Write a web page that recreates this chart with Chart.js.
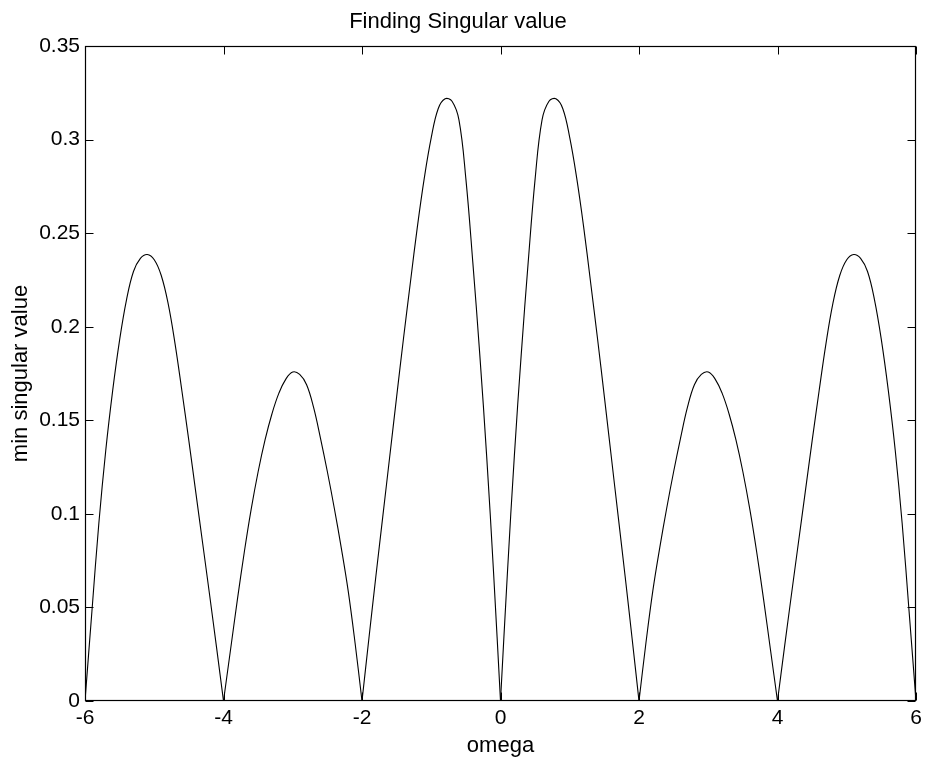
<!DOCTYPE html>
<html>
<head>
<meta charset="utf-8">
<title>Finding Singular value</title>
<script src="https://cdn.jsdelivr.net/npm/chart.js@4.4.1/dist/chart.umd.min.js"></script>
<style>
  html, body { margin: 0; padding: 0; background: #fff; }
  #wrap { width: 927px; height: 763px; }
</style>
</head>
<body>
<div id="wrap"><canvas id="chart" width="927" height="763"></canvas></div>
<script>
// valores (omega x menor valor singular)
const omega = [
  -6.0, -5.9, -5.8, -5.7, -5.6, -5.5, -5.4, -5.3, -5.2, -5.1,
  -5.0, -4.9, -4.8, -4.7, -4.6, -4.5, -4.4, -4.3, -4.2, -4.1,
  -4.0, -3.9, -3.8, -3.7, -3.6, -3.5, -3.4, -3.3, -3.2, -3.1,
  -3.0, -2.9, -2.8, -2.7, -2.6, -2.5, -2.4, -2.3, -2.2, -2.1,
  -2.0, -1.9, -1.8, -1.7, -1.6, -1.5, -1.4, -1.3, -1.2, -1.1,
  -1.0, -0.9, -0.8, -0.7, -0.6, -0.5, -0.4, -0.3, -0.2, -0.1,
  0.0, 0.1, 0.2, 0.3, 0.4, 0.5, 0.6, 0.7, 0.8, 0.9,
  1.0, 1.1, 1.2, 1.3, 1.4, 1.5, 1.6, 1.7, 1.8, 1.9,
  2.0, 2.1, 2.2, 2.3, 2.4, 2.5, 2.6, 2.7, 2.8, 2.9,
  3.0, 3.1, 3.2, 3.3, 3.4, 3.5, 3.6, 3.7, 3.8, 3.9,
  4.0, 4.1, 4.2, 4.3, 4.4, 4.5, 4.6, 4.7, 4.8, 4.9,
  5.0, 5.1, 5.2, 5.3, 5.4, 5.5, 5.6, 5.7, 5.8, 5.9,
  6.0,
];
const minSingular = [
  0, 0.048, 0.095, 0.134, 0.166, 0.193, 0.2145, 0.2295, 0.2365, 0.2386,
  0.2358, 0.2275, 0.2125, 0.191, 0.1655, 0.139, 0.1115, 0.084, 0.0565, 0.0285,
  0, 0.027, 0.054, 0.0795, 0.1025, 0.1225, 0.1395, 0.1535, 0.1645, 0.172,
  0.1758, 0.1745, 0.169, 0.157, 0.1405, 0.1225, 0.103, 0.082, 0.059, 0.031,
  0, 0.0335, 0.0665, 0.0985, 0.1305, 0.1625, 0.194, 0.224, 0.2535, 0.2795,
  0.301, 0.3165, 0.3218, 0.3205, 0.3105, 0.279, 0.2345, 0.1855, 0.131, 0.0685,
  0, 0.0685, 0.131, 0.1855, 0.2345, 0.279, 0.3105, 0.3205, 0.3218, 0.3165,
  0.301, 0.2795, 0.2535, 0.224, 0.194, 0.1625, 0.1305, 0.0985, 0.0665, 0.0335,
  0, 0.031, 0.059, 0.082, 0.103, 0.1225, 0.1405, 0.157, 0.169, 0.1745,
  0.1758, 0.172, 0.1645, 0.1535, 0.1395, 0.1225, 0.1025, 0.0795, 0.054, 0.027,
  0, 0.0285, 0.0565, 0.084, 0.1115, 0.139, 0.1655, 0.191, 0.2125, 0.2275,
  0.2358, 0.2386, 0.2365, 0.2295, 0.2145, 0.193, 0.166, 0.134, 0.095, 0.048,
  0,
];

const xTicks = [-6, -4, -2, 0, 2, 4, 6];
const xTickLabels = ['-6', '-4', '-2', '0', '2', '4', '6'];
const yTicks = [0, 0.05, 0.1, 0.15, 0.2, 0.25, 0.3, 0.35];
const yTickLabels = ['0', '0.05', '0.1', '0.15', '0.2', '0.25', '0.3', '0.35'];

const FONT = "'Liberation Sans', Arial, Helvetica, sans-serif";

// cada arco entre zeros vira um dataset, para os bicos em zero ficarem agudos
function buildLobes() {
  const lobes = [];
  let cur = [];
  omega.forEach((x, i) => {
    const y = minSingular[i];
    cur.push({ x, y });
    if (y === 0 && cur.length > 1) {
      lobes.push(cur);
      cur = [{ x, y }];
    }
  });
  if (cur.length > 1) lobes.push(cur);
  return lobes;
}

// moldura estilo MATLAB com marcas de escala para dentro, nos quatro lados
const frameTicks = {
  id: 'frameTicks',
  afterDraw(chart) {
    const { ctx, chartArea: a, scales: { x, y } } = chart;
    const L = Math.round(a.left) + 0.5;
    const R = Math.round(a.right) - 0.5;
    const T = Math.round(a.top) + 0.5;
    const B = Math.round(a.bottom) - 0.5;
    const len = 8;
    ctx.save();
    ctx.strokeStyle = '#000';
    ctx.lineWidth = 1.2;
    ctx.strokeRect(L, T, R - L, B - T);
    ctx.lineWidth = 1;
    ctx.beginPath();
    x.ticks.forEach((t) => {
      const px = Math.round(x.getPixelForValue(t.value)) + 0.5;
      ctx.moveTo(px, B); ctx.lineTo(px, B - len);
      ctx.moveTo(px, T); ctx.lineTo(px, T + len);
    });
    y.ticks.forEach((t) => {
      const py = Math.round(y.getPixelForValue(t.value)) + 0.5;
      ctx.moveTo(L, py); ctx.lineTo(L + len, py);
      ctx.moveTo(R, py); ctx.lineTo(R - len, py);
    });
    ctx.stroke();
    ctx.restore();
  },
};

Chart.defaults.color = '#000';
Chart.defaults.font.family = FONT;

new Chart(document.getElementById('chart'), {
  type: 'line',
  data: {
    datasets: buildLobes().map((pts) => ({
      data: pts,
      borderColor: '#000',
      borderWidth: 1.1,
      pointRadius: 0,
      fill: false,
      tension: 0.4,
    })),
  },
  options: {
    responsive: false,
    animation: false,
    layout: { padding: { left: 0, right: 11, top: 0, bottom: 0 } },
    plugins: {
      legend: { display: false },
      tooltip: { enabled: false },
      title: {
        display: true,
        text: 'Finding Singular value',
        font: { family: FONT, size: 22, weight: 'normal' },
        color: '#000',
        padding: { top: 8.5, bottom: 11.1 },
      },
    },
    scales: {
      x: {
        type: 'linear',
        min: -6,
        max: 6,
        afterBuildTicks: (s) => { s.ticks = xTicks.map((v) => ({ value: v })); },
        afterFit: (s) => { s.height = 62; },
        grid: { display: false, drawTicks: false },
        border: { display: false },
        ticks: {
          padding: 5,
          font: { family: FONT, size: 21 },
          color: '#000',
          maxRotation: 0,
          callback: (v, i) => xTickLabels[i],
        },
        title: {
          display: true,
          text: 'omega',
          font: { family: FONT, size: 22 },
          color: '#000',
          padding: { top: 4, bottom: 4 },
        },
      },
      y: {
        type: 'linear',
        min: 0,
        max: 0.35,
        afterBuildTicks: (s) => { s.ticks = yTicks.map((v) => ({ value: v })); },
        afterFit: (s) => { s.width = 85; },
        grid: { display: false, drawTicks: false },
        border: { display: false },
        ticks: {
          padding: 5,
          font: { family: FONT, size: 21 },
          color: '#000',
          callback: (v, i) => yTickLabels[i],
        },
        title: {
          display: true,
          text: 'min singular value',
          font: { family: FONT, size: 22 },
          color: '#000',
          padding: { top: 8, bottom: 8 },
        },
      },
    },
  },
  plugins: [frameTicks],
});
</script>
</body>
</html>
